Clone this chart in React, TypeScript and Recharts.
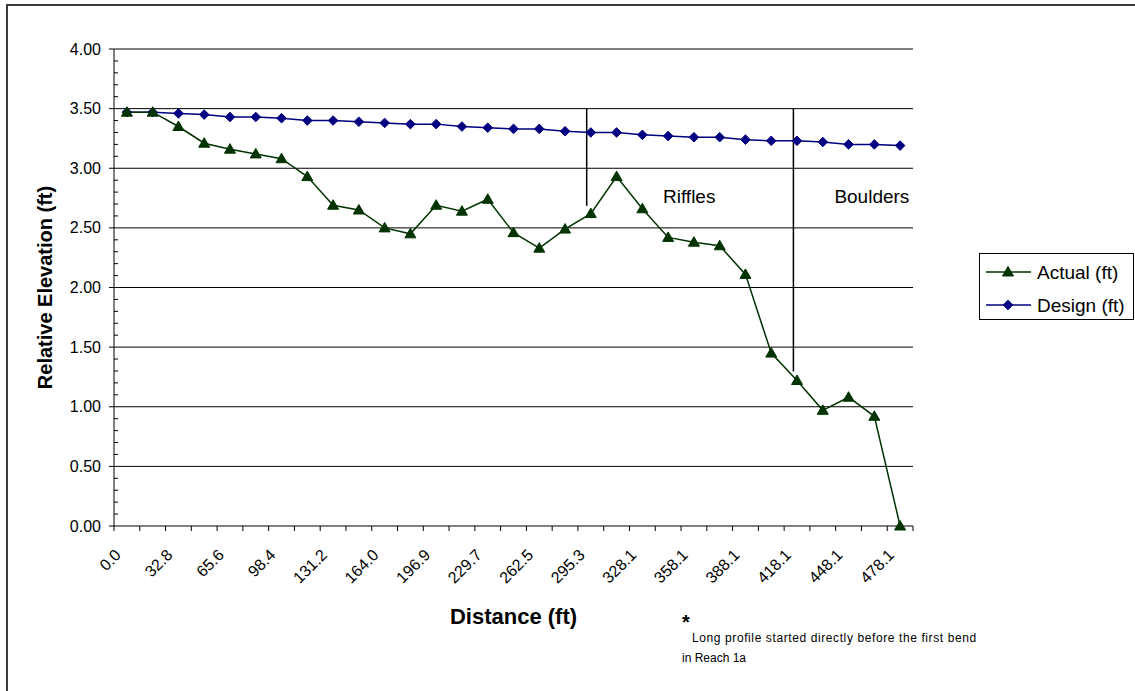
import React from "react";
import {
  LineChart,
  Line,
  XAxis,
  YAxis,
  CartesianGrid,
  ReferenceLine,
  ReferenceDot,
} from "recharts";

const FONT = "'Liberation Sans', Arial, Helvetica, sans-serif";

// ---- data ----
const categories = [
  "0.0", "16.4", "32.8", "49.2", "65.6", "82.0", "98.4", "114.8", "131.2", "147.6",
  "164.0", "180.4", "196.9", "213.3", "229.7", "246.1", "262.5", "278.9", "295.3", "311.7",
  "328.1", "343.1", "358.1", "373.1", "388.1", "403.1", "418.1", "433.1", "448.1", "463.1",
  "478.1",
];

const actual = [
  3.47, 3.47, 3.35, 3.21, 3.16, 3.12, 3.08, 2.93, 2.69, 2.65,
  2.5, 2.45, 2.69, 2.64, 2.74, 2.46, 2.33, 2.49, 2.62, 2.93,
  2.66, 2.42, 2.38, 2.35, 2.11, 1.45, 1.22, 0.97, 1.08, 0.92,
  0.0,
];

const design = [
  3.47, 3.47, 3.46, 3.45, 3.43, 3.43, 3.42, 3.4, 3.4, 3.39,
  3.38, 3.37, 3.37, 3.35, 3.34, 3.33, 3.33, 3.31, 3.3, 3.3,
  3.28, 3.27, 3.26, 3.26, 3.24, 3.23, 3.23, 3.22, 3.2, 3.2,
  3.19,
];

const yMajorTicks = [0, 0.5, 1, 1.5, 2, 2.5, 3, 3.5, 4];
const gridValues = [0.5, 1, 1.5, 2, 2.5, 3, 3.5, 4];

// annotation divider lines: [x position (category index), top value, bottom value]
const dividerRiffles = { x: 17.84, top: 3.5, bottom: 2.685 };
const dividerBoulders = { x: 25.86, top: 3.5, bottom: 1.295 };
const zoneLabels = [
  { text: "Riffles", x: 20.8, y: 2.76 },
  { text: "Boulders", x: 27.45, y: 2.76 },
];

const seriesInfo = [
  { key: "actual", name: "Actual (ft)", color: "#003300", shape: "triangle" },
  { key: "design", name: "Design (ft)", color: "#000080", shape: "diamond" },
];

const data = categories.map((c, i) => ({
  idx: i,
  label: c,
  actual: actual[i],
  design: design[i],
}));

// tick positions: category centres (integers) and category boundaries (halves)
const xTickPositions = Array.from({ length: categories.length * 2 + 1 }, (_, k) => (k - 1) / 2);
const yTicks = Array.from({ length: 41 }, (_, k) => k / 10);

// ---- shapes ----
const triPoints = (cx: number, cy: number) =>
  `${cx},${cy - 5.5} ${cx - 5.5},${cy + 4} ${cx + 5.5},${cy + 4}`;
const diaPoints = (cx: number, cy: number) =>
  `${cx},${cy - 4.8} ${cx + 4.8},${cy} ${cx},${cy + 4.8} ${cx - 4.8},${cy}`;

const TriDot = (props: any) => {
  const { cx, cy } = props;
  if (cx == null || cy == null) return null;
  return <polygon points={triPoints(cx, cy)} fill="#003300" stroke="#003300" strokeWidth={1} />;
};

const DiaDot = (props: any) => {
  const { cx, cy } = props;
  if (cx == null || cy == null) return null;
  return <polygon points={diaPoints(cx, cy)} fill="#000080" stroke="#000080" strokeWidth={1} />;
};

const XTick = (props: any) => {
  const { x, y, payload } = props;
  const v = payload.value as number;
  if (!Number.isInteger(v)) {
    return <line x1={x} x2={x} y1={y} y2={y + 5} stroke="#000" strokeWidth={1} />;
  }
  if (v % 2 !== 0) return <g />;
  const tx = x - 5;
  const ty = y + 30;
  return (
    <text
      x={tx}
      y={ty}
      transform={`rotate(-45 ${tx} ${ty})`}
      textAnchor="end"
      fontSize={16}
      fontFamily={FONT}
      fill="#000"
    >
      {categories[v]}
    </text>
  );
};

const YTick = (props: any) => {
  const { x, y, payload } = props;
  const v = payload.value as number;
  const major = yMajorTicks.some((m) => Math.abs(m - v) < 1e-6);
  if (!major) {
    return <line x1={x} x2={x + 4} y1={y} y2={y} stroke="#000" strokeWidth={1} />;
  }
  return (
    <g>
      <line x1={x - 5} x2={x} y1={y} y2={y} stroke="#000" strokeWidth={1} />
      <text
        x={x - 13}
        y={y}
        textAnchor="end"
        dominantBaseline="central"
        fontSize={16}
        fontFamily={FONT}
        fill="#000"
      >
        {v.toFixed(2)}
      </text>
    </g>
  );
};

const XTitle = (props: any) => {
  const vb = props.viewBox || {};
  return (
    <text
      x={vb.x + vb.width / 2}
      y={vb.y + 90}
      textAnchor="middle"
      dominantBaseline="central"
      fontSize={22}
      fontWeight="bold"
      fontFamily={FONT}
      fill="#000"
    >
      Distance (ft)
    </text>
  );
};

const YTitle = (props: any) => {
  const vb = props.viewBox || {};
  const cx = vb.x + 45;
  const cy = vb.y + vb.height / 2;
  return (
    <text
      x={cx}
      y={cy}
      transform={`rotate(-90 ${cx} ${cy})`}
      textAnchor="middle"
      dominantBaseline="central"
      fontSize={20}
      fontWeight="bold"
      fontFamily={FONT}
      fill="#000"
    >
      Relative Elevation (ft)
    </text>
  );
};

const ZoneText = (props: any) => {
  const vb = props.viewBox || {};
  return (
    <text
      x={vb.x + (vb.width || 0) / 2}
      y={vb.y + (vb.height || 0) / 2}
      textAnchor="start"
      dominantBaseline="central"
      fontSize={19}
      fontFamily={FONT}
      fill="#000"
    >
      {props.text}
    </text>
  );
};

const LegendBox = () => (
  <div
    style={{
      position: "absolute",
      left: 979,
      top: 253,
      width: 155,
      height: 67,
      border: "1px solid #000",
      boxSizing: "border-box",
      background: "#fff",
    }}
  >
    <svg width={155} height={67}>
      {seriesInfo.map((s, i) => {
        const cy = 18 + i * 33;
        return (
          <g key={s.key}>
            <line x1={6} x2={51} y1={cy} y2={cy} stroke={s.color} strokeWidth={1.5} />
            <polygon
              points={s.shape === "triangle" ? triPoints(28, cy) : diaPoints(28, cy)}
              fill={s.color}
              stroke={s.color}
            />
            <text
              x={57}
              y={cy}
              dominantBaseline="central"
              fontSize={19}
              fontFamily={FONT}
              fill="#000"
            >
              {s.name}
            </text>
          </g>
        );
      })}
    </svg>
  </div>
);

export default function App() {
  return (
    <div
      style={{
        position: "absolute",
        left: 0,
        top: 0,
        width: 1135,
        height: 691,
        overflow: "hidden",
        background: "#fff",
        fontFamily: FONT,
      }}
    >
      <div
        style={{
          position: "absolute",
          left: 6,
          top: 4,
          width: 1300,
          height: 900,
          border: "2px solid #3a3a3a",
        }}
      />
      <div style={{ position: "absolute", left: 0, top: 0 }}>
        <LineChart
          width={1135}
          height={691}
          data={data}
          margin={{ top: 49, right: 222, bottom: 0, left: 0 }}
        >
          <CartesianGrid
            vertical={false}
            horizontalValues={gridValues}
            stroke="#000"
            strokeWidth={1}
          />
          <XAxis
            dataKey="idx"
            type="number"
            domain={[-0.5, categories.length - 0.5]}
            ticks={xTickPositions}
            interval={0}
            tick={<XTick />}
            tickLine={false}
            tickSize={0}
            tickMargin={0}
            height={165}
            axisLine={{ stroke: "#000", strokeWidth: 1 }}
            label={<XTitle />}
          />
          <YAxis
            type="number"
            domain={[0, 4]}
            ticks={yTicks}
            interval={0}
            tick={<YTick />}
            tickLine={false}
            tickSize={0}
            tickMargin={0}
            width={114}
            axisLine={{ stroke: "#000", strokeWidth: 1 }}
            label={<YTitle />}
          />
          <ReferenceLine
            segment={[
              { x: dividerRiffles.x, y: dividerRiffles.top },
              { x: dividerRiffles.x, y: dividerRiffles.bottom },
            ]}
            stroke="#000"
            strokeWidth={1.5}
          />
          <ReferenceLine
            segment={[
              { x: dividerBoulders.x, y: dividerBoulders.top },
              { x: dividerBoulders.x, y: dividerBoulders.bottom },
            ]}
            stroke="#000"
            strokeWidth={1.5}
          />
          {zoneLabels.map((z) => (
            <ReferenceDot
              key={z.text}
              x={z.x}
              y={z.y}
              r={0}
              fill="none"
              stroke="none"
              label={<ZoneText text={z.text} />}
            />
          ))}
          <Line
            type="linear"
            dataKey="design"
            name="Design (ft)"
            stroke="#000080"
            strokeWidth={1.5}
            dot={<DiaDot />}
            activeDot={false}
            isAnimationActive={false}
          />
          <Line
            type="linear"
            dataKey="actual"
            name="Actual (ft)"
            stroke="#003300"
            strokeWidth={1.5}
            dot={<TriDot />}
            activeDot={false}
            isAnimationActive={false}
          />
        </LineChart>
      </div>
      <LegendBox />
      <div
        style={{
          position: "absolute",
          left: 682,
          top: 612,
          fontSize: 20,
          fontWeight: "bold",
          lineHeight: "20px",
        }}
      >
        *
      </div>
      <div
        style={{
          position: "absolute",
          left: 692,
          top: 631,
          fontSize: 12,
          lineHeight: "14px",
          whiteSpace: "nowrap",
          letterSpacing: 0.6,
        }}
      >
        Long profile started directly before the first bend
      </div>
      <div
        style={{
          position: "absolute",
          left: 682,
          top: 651,
          fontSize: 12,
          lineHeight: "14px",
          whiteSpace: "nowrap",
        }}
      >
        in Reach 1a
      </div>
    </div>
  );
}
